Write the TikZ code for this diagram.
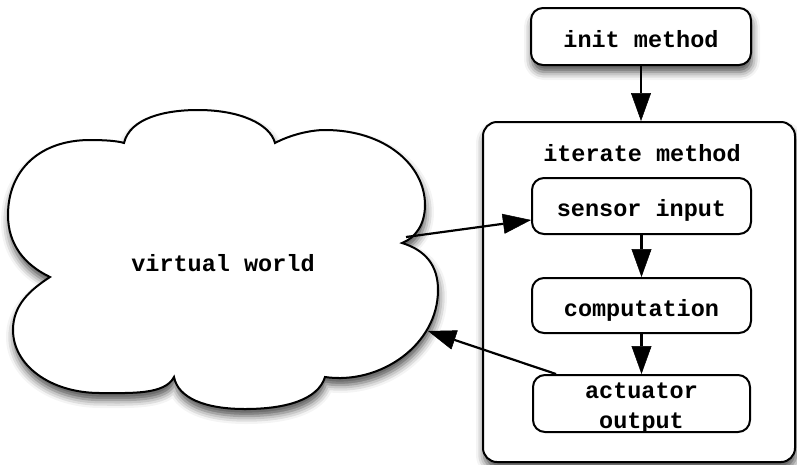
\documentclass[tikz,border=0pt]{standalone}
\usepackage{fontspec}
\setmonofont{Liberation Mono}
\usetikzlibrary{arrows.meta,shadows.blur}
\tikzset{
  lbl/.style={font=\ttfamily\bfseries\fontsize{23.5}{30}\selectfont, align=center},
  boxshadow/.style={blur shadow={shadow xshift=1pt, shadow yshift=-7pt, shadow blur radius=8pt, shadow opacity=70}},
  basebox/.style={draw, line width=2pt, fill=white, rounded corners=12pt, lbl, inner sep=0pt},
  stepbox/.style={basebox, text height=21pt, text depth=0pt},
  frame/.style={draw, line width=2pt, fill=white, rounded corners=14pt, inner sep=0pt},
  arr/.style={line width=2.2pt, -{Triangle[length=28pt, width=20pt, fill=black, line width=0.5pt]}},
}
\begin{document}
\begin{tikzpicture}[x=1pt, y=-1pt]
\useasboundingbox (0,0) rectangle (797,464);

% the virtual world cloud
\filldraw[line width=2pt, fill=white, boxshadow]
  (124,143) .. controls (130,118) and (165,110) .. (198,110)
            .. controls (240,110) and (270,124) .. (275,143)
            .. controls (290,135) and (310,130) .. (325,130)
            .. controls (385,130) and (425,165) .. (425,205)
            .. controls (425,225) and (415,238) .. (402,243)
            .. controls (425,250) and (438,265) .. (438,290)
            .. controls (438,345) and (380,385) .. (325,377)
            .. controls (318,400) and (285,409) .. (245,409)
            .. controls (205,409) and (178,398) .. (174,377)
            .. controls (165,395) and (130,393) .. (100,393)
            .. controls (50,393) and (13,365) .. (13,330)
            .. controls (13,305) and (30,290) .. (50,277)
            .. controls (25,265) and (8,245) .. (8,215)
            .. controls (8,170) and (40,140) .. (90,140)
            .. controls (105,140) and (118,141) .. (124,143) -- cycle;
\node[lbl] (world) at (223,263) {virtual world};
\coordinate (cloudout) at (406,237);
\coordinate (cloudin) at (428,331);

% method boxes
\node[stepbox, boxshadow, minimum width=220pt, minimum height=57pt] (init) at (641,36.5) {init method};
\node[frame, boxshadow, minimum width=312pt, minimum height=340pt] (iter) at (639,292) {};
\node[lbl, anchor=center] (itertitle) at (642,153) {iterate method};
\node[stepbox, minimum width=219pt, minimum height=56pt] (sensor) at (641.5,206) {sensor input};
\node[stepbox, minimum width=219pt, minimum height=55pt] (comp) at (641.5,305.5) {computation};
\node[basebox, text height=53.75pt, text depth=3.25pt, minimum width=217pt, minimum height=57pt] (act) at (641.5,403.5) {actuator\\output};

% connectors
\draw[arr] (init.south) -- (init.south |- iter.north);
\draw[arr] (sensor.south) -- (comp.north);
\draw[arr] (comp.south) -- (act.north);
\draw[arr] (cloudout) -- ([yshift=-14pt]sensor.west);
\draw[arr] ([xshift=24pt]act.north west) -- (cloudin);
\end{tikzpicture}
\end{document}
